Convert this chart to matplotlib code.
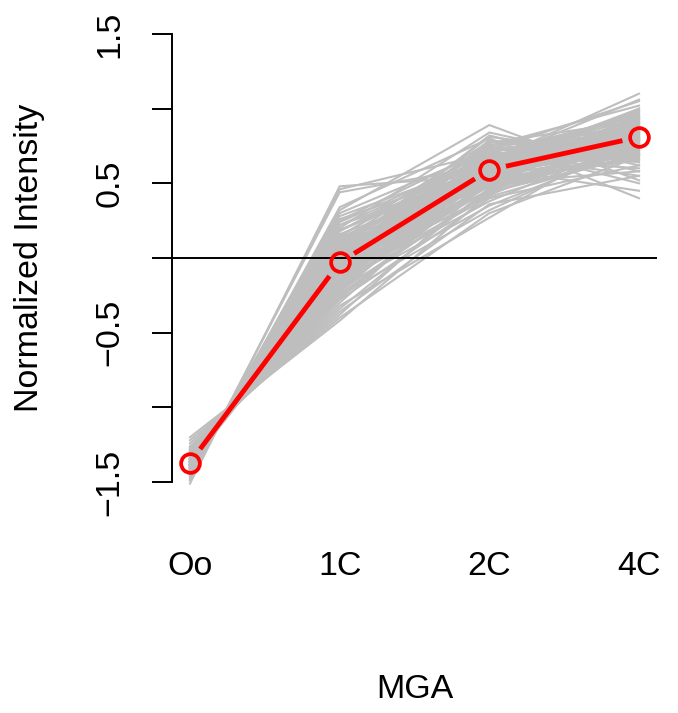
import numpy as np
import matplotlib
matplotlib.use("Agg")
import matplotlib.pyplot as plt

stages = ["Oo", "1C", "2C", "4C"]

profiles = [
    [-1.51, 0.48, 0.55, 0.75], [-1.49, 0.46, 0.70, 0.95], [-1.48, 0.44, 0.62, 0.82],
    [-1.47, 0.34, 0.80, 0.40], [-1.46, 0.32, 0.89, 0.52], [-1.45, 0.28, 0.65, 1.10],
    [-1.45, 0.25, 0.74, 0.88], [-1.44, 0.22, 0.58, 0.70], [-1.44, 0.20, 0.84, 0.62],
    [-1.43, 0.18, 0.66, 0.98], [-1.43, 0.16, 0.52, 0.85], [-1.42, 0.14, 0.78, 0.76],
    [-1.42, 0.12, 0.60, 0.90], [-1.42, 0.10, 0.70, 0.66], [-1.41, 0.09, 0.48, 0.80],
    [-1.41, 0.08, 0.75, 1.02], [-1.41, 0.07, 0.63, 0.72], [-1.40, 0.06, 0.55, 0.94],
    [-1.40, 0.05, 0.82, 0.58], [-1.40, 0.04, 0.68, 0.86], [-1.40, 0.03, 0.50, 0.77],
    [-1.39, 0.02, 0.72, 1.05], [-1.39, 0.01, 0.61, 0.83], [-1.39, 0.00, 0.45, 0.68],
    [-1.39, -0.01, 0.77, 0.92], [-1.38, -0.02, 0.57, 0.74], [-1.38, -0.03, 0.66, 0.88],
    [-1.38, -0.04, 0.53, 0.96], [-1.38, -0.05, 0.79, 0.64], [-1.37, -0.06, 0.62, 0.81],
    [-1.37, -0.07, 0.49, 0.70], [-1.37, -0.08, 0.71, 0.90], [-1.37, -0.09, 0.59, 0.78],
    [-1.36, -0.10, 0.42, 0.84], [-1.36, -0.11, 0.67, 0.60], [-1.36, -0.12, 0.55, 0.93],
    [-1.36, -0.13, 0.73, 0.80], [-1.35, -0.14, 0.46, 0.72], [-1.35, -0.15, 0.60, 0.87],
    [-1.35, -0.16, 0.38, 0.79], [-1.34, -0.17, 0.64, 0.99], [-1.34, -0.18, 0.51, 0.66],
    [-1.34, -0.19, 0.69, 0.85], [-1.33, -0.20, 0.35, 0.75], [-1.33, -0.21, 0.57, 0.91],
    [-1.32, -0.22, 0.44, 0.69], [-1.32, -0.23, 0.62, 0.82], [-1.31, -0.25, 0.32, 0.78],
    [-1.31, -0.26, 0.54, 0.95], [-1.30, -0.28, 0.40, 0.62], [-1.29, -0.30, 0.58, 0.80],
    [-1.28, -0.32, 0.27, 0.85], [-1.27, -0.34, 0.47, 0.73], [-1.26, -0.36, 0.36, 0.55],
    [-1.24, -0.38, 0.52, 0.88], [-1.22, -0.40, 0.30, 0.68], [-1.20, -0.42, 0.43, 0.76],
    [-1.39, 0.05, 0.60, 0.45], [-1.36, -0.05, 0.75, 0.50], [-1.41, 0.15, 0.70, 0.55],
    [-1.38, 0.10, 0.65, 1.06], [-1.35, 0.00, 0.56, 1.00], [-1.37, 0.08, 0.50, 0.88],
    [-1.40, 0.12, 0.58, 0.70], [-1.34, -0.08, 0.63, 0.74], [-1.36, 0.02, 0.67, 0.83],
    [-1.38, -0.12, 0.54, 0.80], [-1.33, -0.05, 0.61, 0.92], [-1.39, 0.18, 0.72, 0.86],
    [-1.42, 0.22, 0.66, 0.78],
    [-1.43, 0.24, 0.68, 0.84], [-1.41, 0.19, 0.56, 0.93], [-1.40, 0.13, 0.63, 0.79],
    [-1.39, 0.09, 0.70, 0.73], [-1.38, 0.04, 0.58, 0.86], [-1.37, 0.01, 0.64, 0.97],
    [-1.37, -0.02, 0.52, 0.82], [-1.36, -0.04, 0.69, 0.71], [-1.35, -0.07, 0.60, 0.89],
    [-1.35, -0.09, 0.48, 0.77], [-1.34, -0.11, 0.66, 0.94], [-1.33, -0.13, 0.55, 0.84],
    [-1.33, -0.15, 0.41, 0.70], [-1.32, -0.17, 0.59, 0.81], [-1.31, -0.19, 0.49, 0.90],
    [-1.30, -0.21, 0.63, 0.76], [-1.29, -0.24, 0.45, 0.83], [-1.28, -0.27, 0.53, 0.67],
    [-1.40, 0.11, 0.76, 0.80], [-1.38, 0.06, 0.81, 0.69], [-1.36, -0.01, 0.74, 0.87],
    [-1.34, -0.06, 0.70, 0.96], [-1.37, -0.10, 0.57, 0.65], [-1.39, 0.14, 0.51, 0.91],
    [-1.42, 0.26, 0.60, 0.74], [-1.44, 0.30, 0.72, 0.79], [-1.32, -0.14, 0.50, 0.58],
    [-1.35, -0.03, 0.65, 0.76], [-1.38, 0.00, 0.62, 1.00], [-1.41, 0.11, 0.54, 0.72],
]

mean_profile = [-1.37, -0.03, 0.59, 0.81]
yticks = [-1.5, -1.0, -0.5, 0.0, 0.5, 1.0, 1.5]
ytick_labels = ["\u22121.5", "", "\u22120.5", "", "0.5", "", "1.5"]

W, H, DPI = 678, 713, 100
fig = plt.figure(figsize=(W / DPI, H / DPI), dpi=DPI)
ax = fig.add_axes([172 / W, 1 - 500 / H, (657 - 172) / W, (500 - 16) / H])

font = "Liberation Sans"
fs = 24.5

x = np.arange(1, len(stages) + 1)
for p in profiles:
    ax.plot(x, p, color="#BEBEBE", lw=1.5, solid_joinstyle="miter", zorder=1)

ax.set_xlim(0.88, 4.12)
ax.set_ylim(-1.62, 1.62)

ax.axhline(0, color="black", lw=1.4, zorder=2)

# red mean profile, R type="b": segments with gaps around points
gap = 17.0
pts = ax.transData.transform(np.column_stack([x, mean_profile]))
inv = ax.transData.inverted()
for i in range(len(pts) - 1):
    a, b = pts[i], pts[i + 1]
    d = b - a
    L = np.hypot(*d)
    u = d / L
    s = inv.transform([a + u * gap, b - u * gap])
    ax.plot(s[:, 0], s[:, 1], color="red", lw=3.5, solid_capstyle="butt", zorder=3)
ax.plot(x, mean_profile, linestyle="none", marker="o", markersize=13.5,
        markerfacecolor="none", markeredgecolor="red", markeredgewidth=2.7, zorder=4)

for side in ["top", "right", "bottom"]:
    ax.spines[side].set_visible(False)
ax.spines["left"].set_bounds(-1.5, 1.5)
ax.spines["left"].set_linewidth(1.4)

ax.set_yticks(yticks)
ax.set_yticklabels(ytick_labels, rotation=90, va="center", fontsize=fs, family=font)
ax.tick_params(axis="y", length=14.5, width=1.4, pad=19)

ax.set_xticks(x)
ax.set_xticklabels(stages, fontsize=fs, family=font)
ax.tick_params(axis="x", length=0, pad=37)

fig.text(30 / W, 1 - 258 / H, "Normalized Intensity", rotation=90, ha="center",
         va="center", fontsize=fs, family=font)
fig.text(414.5 / W, 1 - 690 / H, "MGA", ha="center", va="center", fontsize=fs, family=font)

fig.savefig("out.png", dpi=DPI)
